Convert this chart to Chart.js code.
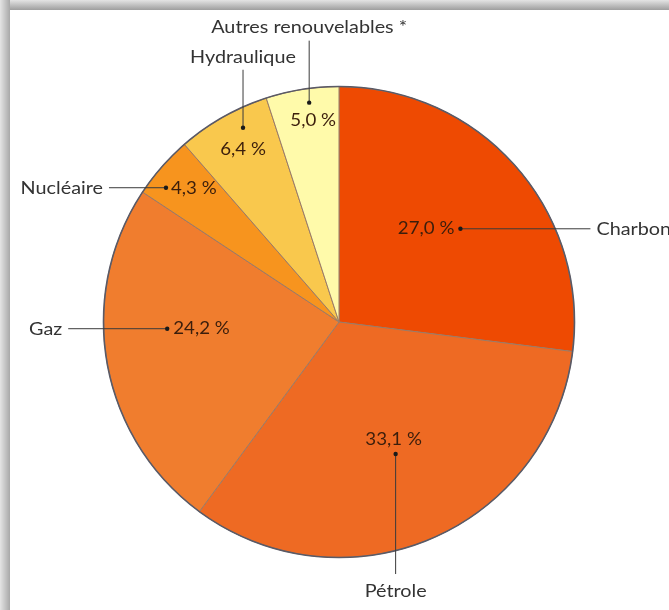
<!DOCTYPE html>
<html>
<head>
<meta charset="utf-8">
<script src="https://cdn.jsdelivr.net/npm/chart.js@4.4.1/dist/chart.umd.min.js"></script>
<style>
  html, body { margin: 0; padding: 0; background: #fff; }
  #wrap { position: relative; width: 669px; height: 610px; overflow: hidden; background: #fff; }
  #top { position: absolute; left: 0; top: 0; width: 669px; height: 10px; background: linear-gradient(to bottom, #e4e4e4, #9e9e9e); }
  #left { position: absolute; left: 0; top: 0; width: 10px; height: 610px; background: linear-gradient(to right, #e4e4e4, #a8a8a8); }
  #c { position: absolute; left: 10px; top: 10px; }
</style>
</head>
<body>
<div id="wrap">
  <div id="top"></div>
  <div id="left"></div>
  <canvas id="c" width="659" height="600"></canvas>
</div>
<script>
// ---- data ----
const categories = ["Charbon", "Pétrole", "Gaz", "Nucléaire", "Hydraulique", "Autres renouvelables *"];
const shares = [27.0, 33.1, 24.2, 4.3, 6.4, 5.0];

// ---- styles ----
const sliceColors = ["#EE4A02", "#EE6A23", "#F07D2E", "#F7941E", "#F9C84D", "#FFFAAA"];
// anchor: fraction along slice angle, fraction of radius
const anchorAngleFrac = [0.54, 0.50, 0.59, 0.28, 0.64, 0.57];
const anchorRadiusFrac = [0.65, 0.61, 0.73, 0.93, 0.92, 0.94];
const leaderDir = ["right", "down", "left", "left", "up", "up"];
const leaderLen = [130, 120, 99, 57, 58, 62];
const pctAlign = ["right", "center", "left", "left", "center", "center"];
const pctDx = [-6, -2, 6, 5, 0, 4];
const pctDy = [0, -15, 0, 1, 22, 18];

const FONT = '"Lato", "Open Sans", sans-serif';
const TEXT_STRETCH = 1.1;

function drawText(ctx, text, x, y, align) {
  ctx.save();
  ctx.translate(x, y);
  ctx.scale(TEXT_STRETCH, 1);
  ctx.textAlign = align;
  ctx.textBaseline = 'middle';
  ctx.fillText(text, 0, 0);
  ctx.restore();
}

const labelPlugin = {
  id: 'labels',
  afterDatasetsDraw(chart) {
    const ctx = chart.ctx;
    const meta = chart.getDatasetMeta(0);
    ctx.save();
    // outer outline
    const a0 = meta.data[0];
    ctx.beginPath();
    ctx.arc(a0.x, a0.y, a0.outerRadius, 0, Math.PI * 2);
    ctx.strokeStyle = '#5a5a66';
    ctx.lineWidth = 1.6;
    ctx.stroke();

    meta.data.forEach((arc, i) => {
      const ang = arc.startAngle + anchorAngleFrac[i] * (arc.endAngle - arc.startAngle);
      const r = arc.outerRadius * anchorRadiusFrac[i];
      const dx = arc.x + Math.cos(ang) * r;
      const dy = arc.y + Math.sin(ang) * r;
      let ex = dx, ey = dy;
      const L = leaderLen[i];
      if (leaderDir[i] === 'right') ex += L;
      else if (leaderDir[i] === 'left') ex -= L;
      else if (leaderDir[i] === 'up') ey -= L;
      else ey += L;
      // leader line
      ctx.beginPath();
      ctx.moveTo(dx, dy);
      ctx.lineTo(ex, ey);
      ctx.strokeStyle = '#3a3a3a';
      ctx.lineWidth = 1;
      ctx.stroke();
      // dot
      ctx.beginPath();
      ctx.arc(dx, dy, 2.2, 0, Math.PI * 2);
      ctx.fillStyle = '#1a1a1a';
      ctx.fill();
      // category label
      ctx.font = '18px ' + FONT;
      ctx.fillStyle = '#333333';
      if (leaderDir[i] === 'right') drawText(ctx, categories[i], ex + 6, ey, 'left');
      else if (leaderDir[i] === 'left') drawText(ctx, categories[i], ex - 6, ey, 'right');
      else if (leaderDir[i] === 'up') drawText(ctx, categories[i], ex, ey - 13, 'center');
      else drawText(ctx, categories[i], ex, ey + 17, 'center');
      // percentage
      ctx.font = '17px ' + FONT;
      ctx.fillStyle = '#3b1e0c';
      drawText(ctx, shares[i].toFixed(1).replace('.', ',') + ' %', dx + pctDx[i], dy + pctDy[i], pctAlign[i]);
    });
    ctx.restore();
  }
};

new Chart(document.getElementById('c'), {
  type: 'pie',
  data: {
    labels: categories,
    datasets: [{
      data: shares,
      backgroundColor: sliceColors,
      borderColor: '#9a7a66',
      borderWidth: 1
    }]
  },
  options: {
    responsive: false,
    maintainAspectRatio: false,
    animation: false,
    layout: { padding: { left: 92, right: 93, top: 76, bottom: 52 } },
    plugins: { legend: { display: false }, tooltip: { enabled: false } }
  },
  plugins: [labelPlugin]
});
</script>
</body>
</html>
